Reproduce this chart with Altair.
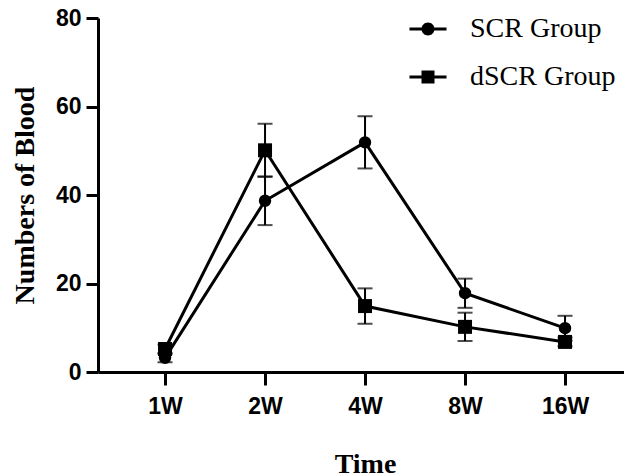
import altair as alt
import pandas as pd

times = ["1W", "2W", "4W", "8W", "16W"]
groups = ["SCR Group", "dSCR Group"]
scr_mean = [3.2, 38.7, 51.9, 17.8, 9.9]
scr_sd = [1.0, 5.5, 5.9, 3.3, 2.8]
dscr_mean = [5.2, 50.1, 14.9, 10.2, 6.8]
dscr_sd = [1.0, 6.0, 4.0, 3.2, 1.0]

rows = []
for g, means, sds in [(groups[0], scr_mean, scr_sd), (groups[1], dscr_mean, dscr_sd)]:
    for t, m, s in zip(times, means, sds):
        rows.append({"time": t, "group": g, "mean": m, "lo": m - s, "hi": m + s})
df = pd.DataFrame(rows)

yscale = alt.Scale(domain=[0, 80], nice=False)
yaxis = alt.Axis(title="Numbers of Blood", values=[0, 20, 40, 60, 80])
xenc = alt.X("time:N", sort=times, scale=alt.Scale(type="point", padding=0.63, align=0.532),
             axis=alt.Axis(title="Time", labelAngle=0))

base = alt.Chart(df).encode(x=xenc)

err_rule = base.mark_rule(color="black", strokeWidth=2).encode(
    y=alt.Y("lo:Q", scale=yscale, axis=yaxis), y2="hi:Q", detail="group:N")
err_lo = base.mark_tick(color="black", thickness=2, size=15, orient="horizontal").encode(
    y=alt.Y("lo:Q", scale=yscale, axis=yaxis), detail="group:N")
err_hi = base.mark_tick(color="black", thickness=2, size=15, orient="horizontal").encode(
    y=alt.Y("hi:Q", scale=yscale, axis=yaxis), detail="group:N")
lines = base.mark_line(color="black", strokeWidth=3).encode(
    y=alt.Y("mean:Q", scale=yscale, axis=yaxis), detail="group:N")
points = base.mark_point(filled=True, color="black", opacity=1).encode(
    y=alt.Y("mean:Q", scale=yscale, axis=yaxis),
    shape=alt.Shape("group:N", scale=alt.Scale(domain=groups, range=["circle", "square"]), legend=None),
    size=alt.Size("group:N", scale=alt.Scale(domain=groups, range=[154, 196]), legend=None),
)

path_scr = ("M-2.85,-0.23H2.85V0.23H-2.85Z"
            "M1,0A1,1,0,1,1,-1,0A1,1,0,1,1,1,0Z")
path_dscr = ("M-2.85,-0.23H2.85V0.23H-2.85Z"
             "M-1,-1H1V1H-1Z")
legend_layer = base.mark_point(filled=True, color="black", opacity=0).encode(
    y=alt.Y("mean:Q", scale=yscale, axis=yaxis),
    shape=alt.Shape("group:N", scale=alt.Scale(domain=groups, range=[path_scr, path_dscr]),
                    legend=alt.Legend(title=None, orient="none", legendX=316, legendY=-3,
                                      symbolSize=169, symbolFillColor="black",
                                      symbolOpacity=1,
                                      labelFont="Liberation Serif", labelFontSize=28, labelColor="black",
                                      labelOffset=28, rowPadding=20, padding=0, labelLimit=300)),
)

chart = alt.layer(err_rule, err_lo, err_hi, lines, points, legend_layer).resolve_scale(
    shape="independent", size="independent"
).properties(
    width=526, height=354,
    autosize=alt.AutoSizeParams(type="none"),
    padding={"left": 90, "top": 10, "right": 0, "bottom": 102},
).configure_view(stroke=None).configure_axis(
    grid=False,
    domainColor="black", domainWidth=3,
    tickColor="black", tickWidth=3,
    labelFont="Liberation Sans", labelFontWeight="bold", labelFontSize=23, labelColor="black",
    titleFont="Liberation Serif", titleFontWeight="bold", titleFontSize=28, titleColor="black",
).configure_axisY(
    tickSize=12, labelPadding=5, titleBaseline="alphabetic", titleX=-65, titleY=177, titleAngle=-90,
).configure_axisX(
    tickSize=13, labelPadding=10, titleBaseline="alphabetic", titleX=267, titleY=100,
)

chart.save("out.html", embed_options={"renderer": "svg", "actions": False})
